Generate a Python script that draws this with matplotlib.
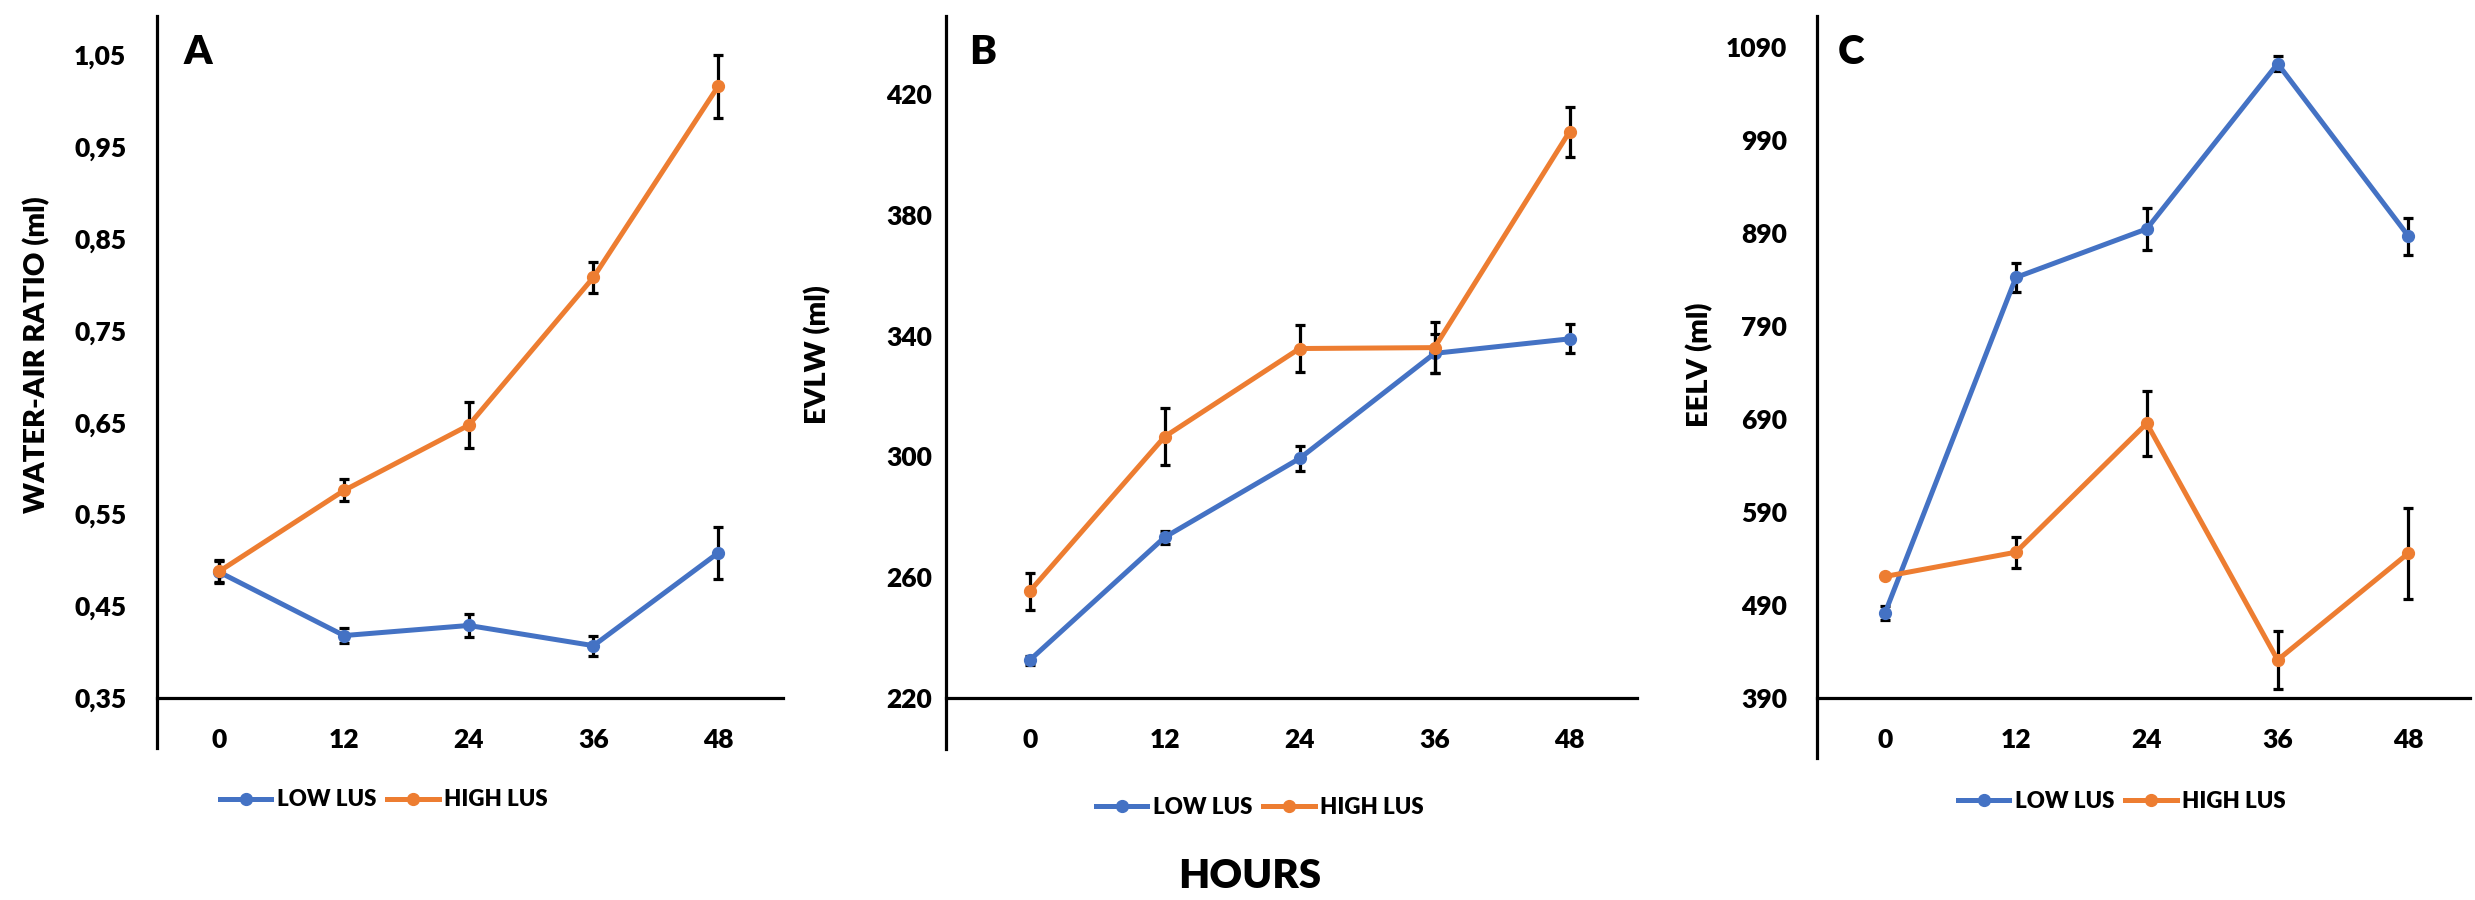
import numpy as np
import matplotlib
matplotlib.use("Agg")
import matplotlib.pyplot as plt
from matplotlib.lines import Line2D

plt.rcParams['font.family'] = ['Lato', 'DejaVu Sans']
WEIGHT = 'heavy'
plt.rcParams['font.weight'] = WEIGHT

# ---------------- data ----------------
hours = ["0", "12", "24", "36", "48"]

war_low = [0.487, 0.418, 0.429, 0.407, 0.508]
war_low_err = [0.012, 0.008, 0.013, 0.011, 0.028]
war_high = [0.488, 0.576, 0.647, 0.808, 1.016]
war_high_err = [0.012, 0.012, 0.025, 0.017, 0.034]

evlw_low = [232.5, 273.2, 299.3, 334.1, 338.9]
evlw_low_err = [1.5, 2.2, 4.2, 6.4, 4.8]
evlw_high = [255.3, 306.5, 335.7, 336.0, 407.5]
evlw_high_err = [6.2, 9.4, 7.7, 8.5, 8.3]

eelv_low = [481.4, 842.0, 894.2, 1071.8, 886.3]
eelv_low_err = [8.0, 15.7, 22.5, 8.4, 20.0]
eelv_high = [520.6, 546.7, 685.2, 430.8, 545.7]
eelv_high_err = [0.0, 16.7, 35.0, 30.8, 48.9]

war_ticks = [0.35, 0.45, 0.55, 0.65, 0.75, 0.85, 0.95, 1.05]
war_ticklabels = ["0,35", "0,45", "0,55", "0,65", "0,75", "0,85", "0,95", "1,05"]
evlw_ticks = [220, 260, 300, 340, 380, 420]
eelv_ticks = [390, 490, 590, 690, 790, 890, 990, 1090]

series_names = ["LOW LUS", "HIGH LUS"]
panel_letters = ["A", "B", "C"]
ylabels = ["WATER-AIR RATIO (ml)", "EVLW (ml)", "EELV (ml)"]
xlabel = "HOURS"

BLUE = "#4472C4"
ORANGE = "#ED7D31"

W, H = 2475, 900
fig = plt.figure(figsize=(W / 100, H / 100), dpi=100)


def rect(left, right, top, bottom):
    return [left / W, 1 - bottom / H, (right - left) / W, (bottom - top) / H]


panels = [
    dict(rect=rect(157, 783, 16, 748), ylim=(0.2956, 1.0925), xlim=(-0.5, 4.52),
         low=war_low, low_err=war_low_err, high=war_high, high_err=war_high_err,
         ticks=war_ticks, ticklabels=war_ticklabels, ypad=22,
         letter_xy=(198, 53), ylabel_xy=(37, 355), legend_xy=(384, 800)),
    dict(rect=rect(946, 1637, 16, 749), ylim=(203.1, 445.8), xlim=(-0.62, 4.5),
         low=evlw_low, low_err=evlw_low_err, high=evlw_high, high_err=evlw_high_err,
         ticks=evlw_ticks, ticklabels=[str(t) for t in evlw_ticks], ypad=10,
         letter_xy=(983, 53), ylabel_xy=(818, 355), legend_xy=(1260, 807)),
    dict(rect=rect(1817, 2470, 16, 758), ylim=(325.5, 1123), xlim=(-0.52, 4.47),
         low=eelv_low, low_err=eelv_low_err, high=eelv_high, high_err=eelv_high_err,
         ticks=eelv_ticks, ticklabels=[str(t) for t in eelv_ticks], ypad=21.5,
         letter_xy=(1851, 53), ylabel_xy=(1700, 365), legend_xy=(2122, 801)),
]

x = np.arange(len(hours))
LW = 3.6
MS = 8.5

for i, p in enumerate(panels):
    ax = fig.add_axes(p["rect"])
    ax.set_xlim(*p["xlim"])
    ax.set_ylim(*p["ylim"])
    for s in ["top", "right"]:
        ax.spines[s].set_visible(False)
    ax.spines["left"].set_linewidth(2.3)
    ax.spines["bottom"].set_linewidth(2.3)
    ax.spines["bottom"].set_position(("data", p["ticks"][0]))

    ax.errorbar(x, p["low"], yerr=p["low_err"], color=BLUE, lw=LW, marker="o",
                markersize=MS, ecolor="black", elinewidth=2.3, capsize=3.8,
                capthick=2.3, zorder=3, clip_on=False)
    ax.errorbar(x, p["high"], yerr=p["high_err"], color=ORANGE, lw=LW, marker="o",
                markersize=MS, ecolor="black", elinewidth=2.3, capsize=3.8,
                capthick=2.3, zorder=4, clip_on=False)

    ax.set_yticks(p["ticks"])
    ax.set_yticklabels(p["ticklabels"])
    ax.tick_params(axis="y", length=0, pad=p["ypad"], labelsize=19)
    ax.set_xticks(x)
    ax.set_xticklabels(hours)
    ax.tick_params(axis="x", length=0, pad=30, labelsize=19)
    for lab in ax.get_xticklabels():
        lab.set_verticalalignment("center")
    for lab in ax.get_xticklabels() + ax.get_yticklabels():
        lab.set_fontweight(WEIGHT)

    lx, ly = p["letter_xy"]
    fig.text(lx / W, 1 - ly / H, panel_letters[i], ha="center", va="center",
             fontsize=29, fontweight=WEIGHT)
    yx, yy = p["ylabel_xy"]
    fig.text(yx / W, 1 - yy / H, ylabels[i], ha="center", va="center",
             rotation=90, fontsize=21, fontweight=WEIGHT)

    handles = [Line2D([], [], color=BLUE, lw=LW, marker="o", markersize=MS),
               Line2D([], [], color=ORANGE, lw=LW, marker="o", markersize=MS)]
    gx, gy = p["legend_xy"]
    ax.legend(handles, series_names, loc="center",
              bbox_to_anchor=(gx / W, 1 - gy / H), bbox_transform=fig.transFigure,
              ncol=2, frameon=False, handlelength=2.3,
              handletextpad=0.25, columnspacing=0.5, borderpad=0,
              prop={"weight": WEIGHT, "size": 16})

fig.text(1250 / W, 1 - 876 / H, xlabel, ha="center", va="center",
         fontsize=29, fontweight=WEIGHT)

fig.savefig("out.png", dpi=100)
